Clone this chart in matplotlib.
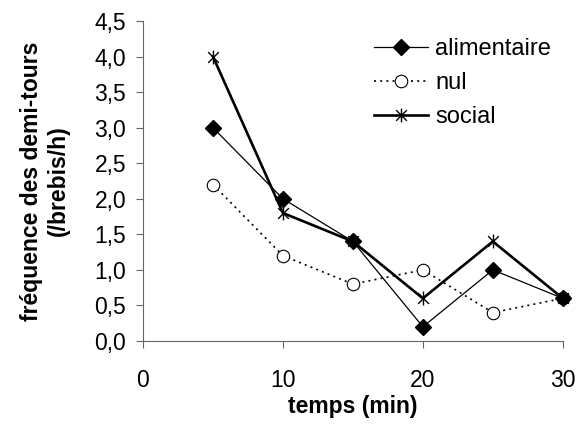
import matplotlib.pyplot as plt
from matplotlib.path import Path
from matplotlib.ticker import FuncFormatter

plt.rcParams['font.family'] = ['Liberation Sans', 'DejaVu Sans']

# Données
temps = [5, 10, 15, 20, 25, 30]
alimentaire = [3.0, 2.0, 1.4, 0.2, 1.0, 0.6]
nul = [2.2, 1.2, 0.8, 1.0, 0.4, 0.6]
social = [4.0, 1.8, 1.4, 0.6, 1.4, 0.6]

# marqueur astérisque (X + trait vertical)
etoile = Path([(-1, -1), (1, 1), (-1, 1), (1, -1), (0, -1.3), (0, 1.3)],
              [Path.MOVETO, Path.LINETO, Path.MOVETO, Path.LINETO, Path.MOVETO, Path.LINETO])

fig = plt.figure(figsize=(5.82, 4.25), dpi=100)
ax = fig.add_axes([0.2457, 0.1976, 0.7213, 0.753])

ax.plot(temps, alimentaire, color='black', lw=0.9, marker='D', ms=8,
        mfc='black', mec='black', label='alimentaire', clip_on=False, zorder=3)
ax.plot(temps, nul, color='black', lw=1.2, ls=(0, (1.2, 2.5)), marker='o', ms=9,
        mfc='white', mec='black', mew=0.8, label='nul', clip_on=False, zorder=2)
ax.plot(temps, social, color='black', lw=1.9, marker=etoile, ms=10,
        mfc='none', mec='black', mew=1.0, label='social', clip_on=False, zorder=4)

ax.set_xlim(0, 30)
ax.set_ylim(0, 4.5)
ax.set_xticks([0, 10, 20, 30])
ax.set_yticks([i * 0.5 for i in range(10)])
ax.yaxis.set_major_formatter(FuncFormatter(lambda v, p: f'{v:.1f}'.replace('.', ',')))

for s in ['top', 'right']:
    ax.spines[s].set_visible(False)
for s in ['left', 'bottom']:
    ax.spines[s].set_color('#666666')
ax.tick_params(direction='out', length=5, width=0.8, color='#666666', labelsize=16.5)
ax.tick_params(axis='x', pad=15)
ax.tick_params(axis='y', pad=7)

ax.set_xlabel('temps (min)', fontsize=16.5, fontweight='bold', labelpad=2)
ax.set_ylabel('fréquence des demi-tours\n(/brebis/h)', fontsize=16.5,
              fontweight='bold', labelpad=18, linespacing=1.2)

fig.legend(loc='upper left', bbox_to_anchor=(0.6426, 0.91), frameon=False,
           fontsize=17, handlelength=2.3, handletextpad=0.3, labelspacing=0.5,
           borderaxespad=0, borderpad=0)

fig.savefig('out.png', dpi=100)
